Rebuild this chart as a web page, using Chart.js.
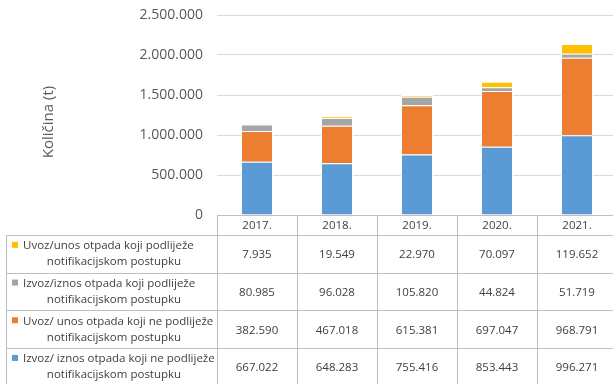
<!DOCTYPE html>
<html>
<head>
<meta charset="utf-8">
<script src="https://cdn.jsdelivr.net/npm/chart.js@4.4.1/dist/chart.umd.min.js"></script>
<style>
  html, body { margin: 0; padding: 0; background: #fff; overflow: hidden; }
  #wrap { width: 613px; height: 384px; overflow: hidden; }
</style>
</head>
<body>
<div id="wrap"><canvas id="chart" width="630" height="392"></canvas></div>
<script>
// ---------------- DATA ----------------
const years = ["2017.", "2018.", "2019.", "2020.", "2021."];

const izvozNeNotif = [667022, 648283, 755416, 853443, 996271];
const uvozNeNotif = [382590, 467018, 615381, 697047, 968791];
const izvozNotif = [80985, 96028, 105820, 44824, 51719];
const uvozNotif = [7935, 19549, 22970, 70097, 119652];

const seriesNames = [
  ["Izvoz/ iznos otpada koji ne podliježe", "notifikacijskom postupku"],
  ["Uvoz/ unos otpada koji ne podliježe", "notifikacijskom postupku"],
  ["Izvoz/iznos otpada koji podliježe", "notifikacijskom postupku"],
  ["Uvoz/unos otpada koji podliježe", "notifikacijskom postupku"]
];
const seriesColors = ["#5B9BD5", "#ED7D31", "#A5A5A5", "#FFC000"];

const yTicks = [0, 500000, 1000000, 1500000, 2000000, 2500000];

function fmt(v) {
  return String(v).replace(/\B(?=(\d{3})+(?!\d))/g, ".");
}

const FONT = "'Open Sans', 'Noto Sans', sans-serif";
const TABLE_TOP = 215;
const HEADER_H = 20;
const ROW_H = 37.7;
const TABLE_LEFT = 6;
const GRID = "#BFBFBF";

// ---------------- TABLE PLUGIN ----------------
const dataTable = {
  id: "dataTable",
  afterDraw(chart) {
    const ctx = chart.ctx;
    const x = chart.scales.x;
    const area = chart.chartArea;
    const half = (x.getPixelForValue(1) - x.getPixelForValue(0)) / 2;
    const rows = chart.data.datasets.slice().reverse();

    ctx.save();
    ctx.strokeStyle = GRID;
    ctx.lineWidth = 1;

    // header row
    ctx.beginPath();
    ctx.moveTo(area.left, TABLE_TOP + 0.5);
    ctx.lineTo(chart.width, TABLE_TOP + 0.5);
    for (let i = 0; i <= years.length; i++) {
      const px = Math.round(x.getPixelForValue(i) - half) + 0.5;
      ctx.moveTo(px, TABLE_TOP);
      ctx.lineTo(px, chart.height);
    }
    // body rows
    for (let r = 0; r <= rows.length; r++) {
      const py = Math.round(TABLE_TOP + HEADER_H + r * ROW_H) + 0.5;
      ctx.moveTo(TABLE_LEFT, py);
      ctx.lineTo(chart.width, py);
    }
    ctx.moveTo(TABLE_LEFT + 0.5, TABLE_TOP + HEADER_H);
    ctx.lineTo(TABLE_LEFT + 0.5, chart.height);
    ctx.stroke();

    ctx.fillStyle = "#404040";
    ctx.font = "11.5px " + FONT;
    ctx.textAlign = "center";
    ctx.textBaseline = "middle";
    years.forEach((y, i) => {
      ctx.fillText(y, x.getPixelForValue(i), TABLE_TOP + HEADER_H / 2 + 1);
    });

    rows.forEach((ds, r) => {
      const cy = TABLE_TOP + HEADER_H + r * ROW_H + ROW_H / 2;
      ds.data.forEach((v, i) => {
        ctx.fillStyle = "#404040";
        ctx.textAlign = "center";
        ctx.fillText(fmt(v), x.getPixelForValue(i), cy + 1);
      });
      // legend cell
      ctx.fillStyle = ds.backgroundColor;
      ctx.fillRect(12, cy - 12, 6, 6);
      ctx.fillStyle = "#404040";
      ctx.textAlign = "left";
      ctx.fillText(ds.label[0], 23, cy - 8);
      ctx.textAlign = "center";
      ctx.fillText(ds.label[1], 114, cy + 8);
    });

    // y axis title
    ctx.save();
    ctx.translate(49, 122);
    ctx.rotate(-Math.PI / 2);
    ctx.font = "15px " + FONT;
    ctx.fillStyle = "#595959";
    ctx.textAlign = "center";
    ctx.fillText("Količina (t)", 0, 0);
    ctx.restore();

    ctx.restore();
  }
};

// ---------------- CHART ----------------
const ctx = document.getElementById("chart").getContext("2d");
new Chart(ctx, {
  type: "bar",
  data: {
    labels: years,
    datasets: [
      { label: seriesNames[0], data: izvozNeNotif, backgroundColor: seriesColors[0] },
      { label: seriesNames[1], data: uvozNeNotif, backgroundColor: seriesColors[1] },
      { label: seriesNames[2], data: izvozNotif, backgroundColor: seriesColors[2] },
      { label: seriesNames[3], data: uvozNotif, backgroundColor: seriesColors[3] }
    ].map(d => Object.assign(d, {
      borderColor: "#ffffff",
      borderWidth: 1,
      barPercentage: 0.4,
      categoryPercentage: 1.0
    }))
  },
  options: {
    responsive: false,
    animation: false,
    devicePixelRatio: 1,
    layout: { padding: { top: 15, right: 13, bottom: 177, left: 0 } },
    plugins: {
      legend: { display: false },
      tooltip: { enabled: false }
    },
    scales: {
      x: {
        stacked: true,
        display: false
      },
      y: {
        stacked: true,
        min: 0,
        max: 2500000,
        afterBuildTicks: (scale) => { scale.ticks = yTicks.map(v => ({ value: v })); },
        afterFit: (scale) => {
          scale.width = 217;
          scale.paddingTop = 0;
          scale.paddingBottom = 0;
        },
        border: { display: false },
        grid: { color: "#D9D9D9", drawTicks: false },
        ticks: {
          color: "#595959",
          font: { family: FONT, size: 14 },
          padding: 14,
          callback: (v) => fmt(v)
        }
      }
    }
  },
  plugins: [dataTable]
});
</script>
</body>
</html>
